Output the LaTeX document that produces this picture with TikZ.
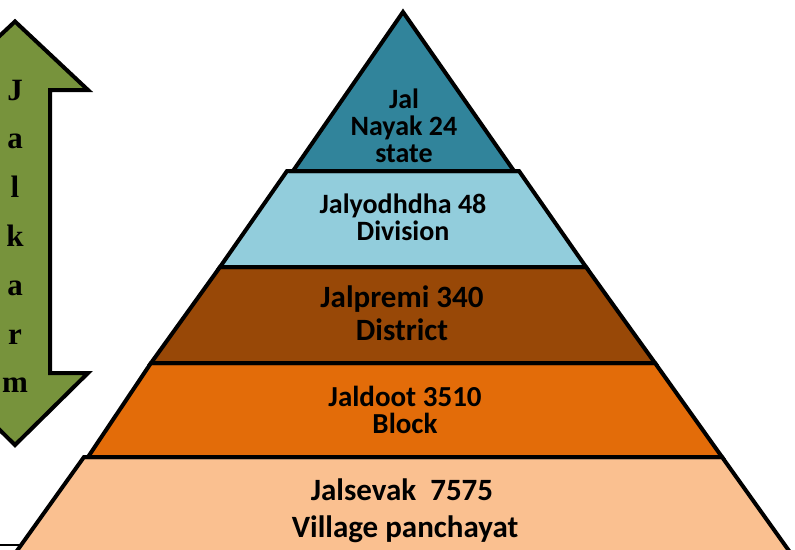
\documentclass[tikz,border=0pt]{standalone}
\usepackage{fontspec}
\setmainfont{Carlito}
\newfontfamily\timesf{Liberation Serif}
\definecolor{cTeal}{HTML}{31849B}
\definecolor{cLight}{HTML}{92CDDC}
\definecolor{cBrown}{HTML}{984807}
\definecolor{cOrange}{HTML}{E36C09}
\definecolor{cPeach}{HTML}{FAC090}
\definecolor{cGreen}{HTML}{77933C}
\begin{document}
\begin{tikzpicture}[x=1pt,y=-1pt,
  band/.style={draw=black,line width=4pt,line join=miter},
  lbl/.style={inner sep=0pt,anchor=base,text=black},
  lt/.style={lbl,font=\fontsize{#1}{#1}\selectfont\bfseries},
  arrlet/.style={lbl,font=\timesf\fontsize{31}{31}\selectfont\bfseries}]
\useasboundingbox (0,0) rectangle (795,549);
\clip (0,0) rectangle (795,549);
% pyramid bands, bottom first
\draw[band,fill=cPeach] (84,457) -- (722,457) -- (802,569) -- (4,569) -- cycle;
\draw[band,fill=cOrange] (151,363) -- (655,363) -- (722,457) -- (88,457) -- cycle;
\draw[band,fill=cBrown] (220,267) -- (586,267) -- (655,363) -- (151,363) -- cycle;
\draw[band,fill=cLight] (287,171) -- (519,171) -- (586,267) -- (220,267) -- cycle;
\draw[band,fill=cTeal] (403,12) -- (514,171) -- (293,171) -- cycle;
% texts
\node[lt=28] (t1a) at (404,108) {Jal};
\node[lt=28] (t1b) at (404,135) {Nayak 24};
\node[lt=28] (t1c) at (404,162) {state};
\node[lt=28] (t2a) at (403,213) {Jalyodhdha 48};
\node[lt=28] (t2b) at (403,240) {Division};
\node[lt=31] (t3a) at (402,307) {Jalpremi 340};
\node[lt=31] (t3b) at (402,340) {District};
\node[lt=29] (t4a) at (405,406) {Jaldoot 3510};
\node[lt=29] (t4b) at (405,433) {Block};
\node[lt=31] (t5a) at (402,500) {Jalsevak\ \ 7575};
\node[lt=31] (t5b) at (405,537) {Village panchayat};
% up-down arrow
\draw[band,fill=cGreen] (15,21.5) -- (88,90) -- (50,90) -- (50,373) -- (88,373)
  -- (15,445) -- (-58,373) -- (-20,373) -- (-20,90) -- (-58,90) -- cycle;
\foreach \ch [count=\i from 0] in {J,a,l,k,a,r,m}
  \node[arrlet] (L\i) at (15,100+48.8*\i) {\ch};
% bottom-left line
\coordinate (bl0) at (0,545);
\coordinate (bl1) at (20,545);
\draw[black,line width=1.5pt] (bl0) -- (bl1);
\end{tikzpicture}
\end{document}
